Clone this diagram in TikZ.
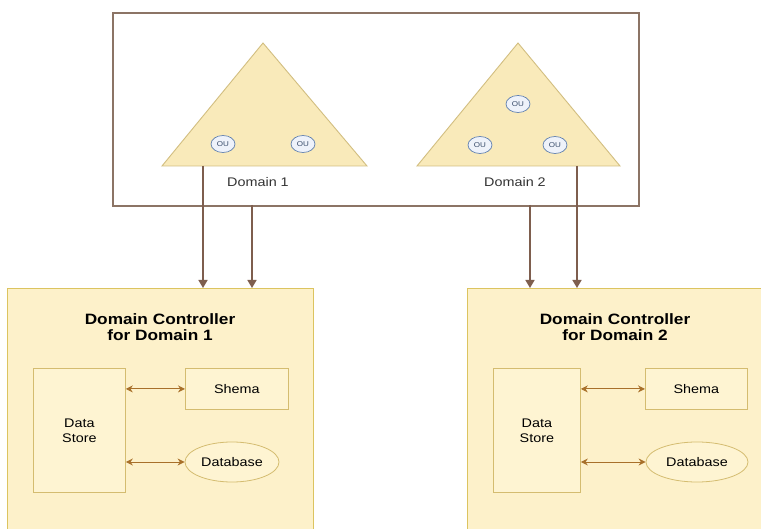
\documentclass[tikz,border=0pt]{standalone}
\usepackage{fontspec}
\setmainfont[FakeStretch=1.15]{Liberation Sans}
\usetikzlibrary{shapes.geometric,arrows.meta,positioning}

\definecolor{framecol}{HTML}{8C7465}
\definecolor{triline}{HTML}{D2BE80}
\definecolor{trifill}{HTML}{F9EABA}
\definecolor{oublue}{HTML}{5F7FB0}
\definecolor{oufill}{HTML}{EEF2FA}
\definecolor{dcline}{HTML}{DCC460}
\definecolor{dcfill}{HTML}{FDF1CA}
\definecolor{partline}{HTML}{D4BC70}
\definecolor{partfill}{HTML}{FEF4D2}
\definecolor{linkcol}{HTML}{7E5E4E}
\definecolor{swapcol}{HTML}{A8702A}

\begin{document}
\begin{tikzpicture}[
    x=1pt, y=-1pt,
    frame/.style={draw=framecol, line width=1.8pt},
    tri/.style={draw=triline, fill=trifill, line width=0.9pt},
    ou/.style={ellipse, draw=oublue, fill=oufill, line width=0.7pt, minimum width=24pt, minimum height=17pt, inner sep=0pt, font=\fontsize{7}{8}\selectfont, text=oublue!60!black},
    dcbox/.style={draw=dcline, fill=dcfill, line width=1.2pt, anchor=north west, inner sep=0pt},
    part/.style={draw=partline, fill=partfill, line width=0.8pt, inner sep=0pt, font=\fontsize{12.5}{15}\selectfont, align=center},
    link/.style={draw=linkcol, line width=1.5pt, -{Triangle[width=9pt,length=8pt]}},
    swap/.style={draw=swapcol, line width=1pt, {Stealth[width=7pt,length=7pt]}-{Stealth[width=7pt,length=7pt]}},
    lbl/.style={font=\fontsize{12.5}{15}\selectfont, text=black!80}
]

\clip (0,0) rectangle (761,529);
\fill[white] (0,0) rectangle (761,529);

% ── Forest frame with the two domain trees ───────────────────────────────────
\node[frame, anchor=north west, minimum width=526pt, minimum height=193pt, inner sep=0pt] (forest) at (112,12) {};

\draw[tri] (263,43) -- (367,166) -- (162,166) -- cycle;
\draw[tri] (518,43) -- (620,166) -- (417,166) -- cycle;

\node[ou] (ou11) at (223,144) {OU};
\node[ou] (ou12) at (303,144) {OU};
\node[ou] (ou21) at (518,104) {OU};
\node[ou] (ou22) at (480,145) {OU};
\node[ou] (ou23) at (555,145) {OU};

\node[lbl] (dom1) at (258,182) {Domain 1};
\node[lbl] (dom2) at (515,182) {Domain 2};

% ── Domain controllers ───────────────────────────────────────────────────────
\foreach \n/\x/\cx in {1/7/160, 2/467/615} {
    \node[dcbox, minimum width=306pt, minimum height=260pt] (dc\n) at (\x,288) {};
    \node[font=\bfseries\fontsize{15}{16}\selectfont, align=center] (title\n) at (\cx,327) {Domain Controller\\for Domain \n};
}

\node[part, anchor=north west, minimum width=92pt, minimum height=124pt] (store1) at (33,368) {Data\\Store};
\node[part, anchor=north west, minimum width=103pt, minimum height=41pt] (shema1) at (185,368) {Shema};
\node[part, ellipse, minimum width=94pt, minimum height=40pt] (db1) at (232,462) {Database};

\node[part, anchor=north west, minimum width=87pt, minimum height=124pt] (store2) at (493,368) {Data\\Store};
\node[part, anchor=north west, minimum width=102pt, minimum height=41pt] (shema2) at (645,368) {Shema};
\node[part, ellipse, minimum width=102pt, minimum height=40pt] (db2) at (697,462) {Database};

% ── Links from the domains down to their controllers ─────────────────────────
\coordinate (d1a) at (203,166);
\coordinate (d1b) at (252,205);
\coordinate (d2a) at (530,205);
\coordinate (d2b) at (577,166);
\foreach \c/\n in {d1a/1, d1b/1, d2a/2, d2b/2} {
    \draw[link] (\c) -- (\c |- dc\n.north);
}

% ── Data store exchanges ─────────────────────────────────────────────────────
\foreach \n in {1,2} {
    \draw[swap] (store\n.east |- shema\n.west) -- (shema\n.west);
    \draw[swap] (store\n.east |- db\n.west) -- (db\n.west);
}

\end{tikzpicture}
\end{document}
